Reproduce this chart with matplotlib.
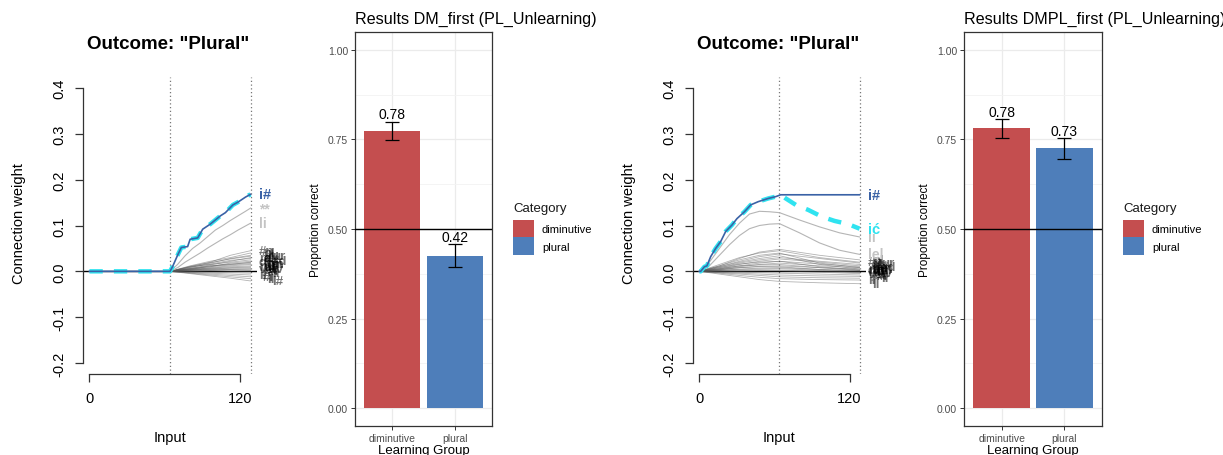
import matplotlib
matplotlib.use("Agg")
import matplotlib.pyplot as plt
from matplotlib.patches import Patch

plt.rcParams["font.family"] = ["Liberation Sans", "DejaVu Sans"]

# ---------------- data: learning curves, outcome "Plural" ----------------
PHASES = [64, 128]

# panel 1 (DM first): cue "i#" only learnt in second phase
P1_BLUE_X = [0, 64, 66, 70, 73, 78, 80, 86, 90, 96, 104, 108, 114, 118, 124, 128]
P1_BLUE_Y = [0, 0, 0.01, 0.035, 0.052, 0.054, 0.07, 0.073, 0.092, 0.103, 0.121, 0.128, 0.145, 0.151, 0.162, 0.168]

P1_GREY_X = [64, 70, 76, 82, 88, 94, 100, 106, 112, 118, 124, 128]
P1_GREY_Y = [
    [0, 0.015, 0.034, 0.050, 0.062, 0.076, 0.090, 0.100, 0.111, 0.121, 0.131, 0.138],
    [0, 0.008, 0.020, 0.030, 0.040, 0.051, 0.061, 0.071, 0.080, 0.090, 0.099, 0.105],
]
P1_GREY_LABELS = ["**", "li"]

P1_BUNDLE_X = [64, 80, 96, 112, 128]
P1_BUNDLE_Y = [
    [0, 0.010, 0.020, 0.035, 0.045],
    [0, 0.012, 0.022, 0.030, 0.040],
    [0, 0.008, 0.018, 0.028, 0.035],
    [0, 0.011, 0.019, 0.027, 0.033],
    [0, 0.006, 0.014, 0.022, 0.030],
    [0, 0.009, 0.016, 0.024, 0.028],
    [0, 0.010, 0.015, 0.020, 0.025],
    [0, 0.005, 0.010, 0.018, 0.022],
    [0, 0.004, 0.012, 0.015, 0.020],
    [0, 0.007, 0.012, 0.016, 0.019],
    [0, 0.006, 0.010, 0.014, 0.017],
    [0, 0.003, 0.008, 0.012, 0.015],
    [0, 0.005, 0.007, 0.010, 0.012],
    [0, 0.002, 0.006, 0.008, 0.010],
    [0, 0.004, 0.005, 0.007, 0.008],
    [0, 0.002, 0.004, 0.005, 0.006],
    [0, 0.003, 0.003, 0.004, 0.004],
    [0, 0.001, 0.002, 0.003, 0.002],
    [0, 0.000, 0.001, 0.000, 0.000],
    [0, -0.001, -0.002, -0.003, -0.004],
    [0, -0.002, -0.004, -0.006, -0.008],
    [0, -0.003, -0.006, -0.009, -0.012],
    [0, -0.004, -0.008, -0.012, -0.016],
    [0, -0.005, -0.010, -0.015, -0.021],
]
P1_BUNDLE_LABELS = ["#p", "pl", "lu", "ur", "ra", "al", "l#", "#d", "di", "im", "mi", "in",
                    "nu", "ut", "ti", "iv", "ve", "e#", "#l", "lł", "ił", "#i", "ll", "l#"]

# panel 2 (DMPL first): "i#" learnt first, "ić" unlearnt later
P2_BLUE_X = [0, 1, 4, 6, 9, 13, 17, 21, 26, 30, 36, 41, 47, 55, 61, 65, 128]
P2_BLUE_Y = [0, 0, 0.010, 0.012, 0.032, 0.050, 0.065, 0.087, 0.101, 0.115, 0.130, 0.145, 0.152, 0.159, 0.163, 0.167, 0.167]

P2_CYAN_X = [0, 1, 4, 6, 9, 13, 17, 21, 26, 30, 36, 41, 47, 55, 61, 65, 69, 77, 87, 98, 108, 119, 128]
P2_CYAN_Y = [0, 0, 0.010, 0.012, 0.032, 0.050, 0.065, 0.087, 0.101, 0.115, 0.130, 0.145, 0.152, 0.159,
             0.163, 0.167, 0.159, 0.145, 0.134, 0.119, 0.110, 0.103, 0.093]

P2_GREY_X = [0, 8, 16, 24, 32, 40, 48, 56, 64, 80, 96, 112, 128]
P2_GREY_Y = [
    [0, 0.020, 0.050, 0.080, 0.105, 0.125, 0.131, 0.130, 0.128, 0.112, 0.097, 0.084, 0.075],
    [0, 0.012, 0.035, 0.058, 0.078, 0.093, 0.100, 0.103, 0.104, 0.084, 0.062, 0.046, 0.037],
]
P2_GREY_LABELS = ["li", "lel"]

P2_BUNDLE_X = [0, 16, 32, 48, 64, 96, 128]
P2_BUNDLE_Y = [
    [0, 0.015, 0.030, 0.040, 0.045, 0.030, 0.020],
    [0, 0.012, 0.028, 0.042, 0.048, 0.035, 0.025],
    [0, 0.012, 0.025, 0.035, 0.040, 0.018, 0.008],
    [0, 0.010, 0.022, 0.032, 0.038, 0.028, 0.018],
    [0, 0.010, 0.020, 0.028, 0.034, 0.015, 0.005],
    [0, 0.008, 0.018, 0.025, 0.030, 0.022, 0.015],
    [0, 0.006, 0.015, 0.022, 0.027, 0.020, 0.012],
    [0, 0.005, 0.012, 0.018, 0.022, 0.016, 0.010],
    [0, 0.008, 0.016, 0.020, 0.022, 0.010, 0.003],
    [0, 0.004, 0.010, 0.015, 0.018, 0.012, 0.008],
    [0, 0.006, 0.012, 0.014, 0.015, 0.008, 0.002],
    [0, 0.003, 0.008, 0.011, 0.012, 0.008, 0.005],
    [0, 0.004, 0.008, 0.010, 0.010, 0.004, 0.000],
    [0, 0.002, 0.005, 0.007, 0.008, 0.004, 0.002],
    [0, 0.002, 0.004, 0.005, 0.006, 0.002, -0.002],
    [0, 0.001, 0.002, 0.003, 0.003, 0.000, -0.003],
    [0, 0.000, 0.000, 0.001, 0.001, -0.002, -0.005],
    [0, -0.001, -0.002, -0.003, -0.004, -0.006, -0.008],
    [0, -0.002, -0.004, -0.006, -0.008, -0.010, -0.011],
    [0, -0.003, -0.006, -0.009, -0.012, -0.014, -0.015],
    [0, -0.004, -0.009, -0.013, -0.016, -0.018, -0.019],
    [0, -0.006, -0.012, -0.018, -0.022, -0.025, -0.027],
]
P2_BUNDLE_LABELS = ["#p", "pl", "lu", "ur", "ra", "al", "l#", "#d", "di", "im", "mi",
                    "in", "nu", "ut", "ti", "iv", "ve", "e#", "#l", "lł", "ił", "ll"]

# ---------------- data: results bars ----------------
GROUPS = ["diminutive", "plural"]
DM_MEAN = [0.775, 0.426]
DM_LO = [0.748, 0.395]
DM_HI = [0.800, 0.457]
DM_TXT = ["0.78", "0.42"]

DMPL_MEAN = [0.783, 0.727]
DMPL_LO = [0.754, 0.695]
DMPL_HI = [0.808, 0.754]
DMPL_TXT = ["0.78", "0.73"]

RED = "#C44E4F"
BLUE = "#4E7EBA"
DARKBLUE = "#3A62A6"
CYAN = "#2FE3F0"

W, H = 1223, 456
fig = plt.figure(figsize=(W / 100, H / 100), dpi=100)


def px_axes(left, right, top, bottom):
    return fig.add_axes([left / W, 1 - bottom / H, (right - left) / W, (bottom - top) / H])


def curve_panel(ax, blue_x, blue_y, cyan_x, cyan_y, grey_x, grey_y, grey_lab,
                bund_x, bund_y, bund_lab, cyan_label):
    ax.set_xlim(-5.12, 133.12)
    ax.set_ylim(-0.224, 0.424)
    for spine in ["top", "right"]:
        ax.spines[spine].set_visible(False)
    ax.spines["left"].set_bounds(-0.2, 0.4)
    ax.spines["bottom"].set_bounds(0, 120)
    for spine in ["left", "bottom"]:
        ax.spines[spine].set_color("#333333")
        ax.spines[spine].set_linewidth(0.9)
    ax.set_yticks([-0.2, -0.1, 0.0, 0.1, 0.2, 0.3, 0.4])
    ax.set_yticklabels(["-0.2", "-0.1", "0.0", "0.1", "0.2", "0.3", "0.4"],
                       rotation=90, va="center")
    ax.set_xticks([0, 120])
    ax.tick_params(length=6, width=0.9, color="#333333", labelsize=10.5, pad=6)
    ax.set_xlabel("Input", fontsize=10.5, labelpad=18)
    ax.set_ylabel("Connection weight", fontsize=10.5)
    ax.yaxis.set_label_coords(-0.33, 0.51)
    ax.text(0.49, 1.114, 'Outcome: "Plural"', transform=ax.transAxes, ha="center",
            va="center", fontsize=13.5, fontweight="bold")

    for xv in PHASES:
        ax.axvline(xv, color="#777777", lw=0.9, ls=(0, (1, 2)))
    ax.axhline(0, color="black", lw=1.0, zorder=2)

    for k, ys in enumerate(bund_y):
        ax.plot(bund_x, ys, color="#555555", lw=0.6, alpha=0.45, zorder=3)
        ax.text(134.5 + 3.5 * (k % 4), ys[-1], bund_lab[k], fontsize=9.5, fontweight="bold",
                color="black", alpha=0.55, va="center", ha="left", clip_on=False)
    for ys, lab in zip(grey_y, grey_lab):
        ax.plot(grey_x, ys, color="#B5B5B5", lw=0.8, zorder=3)
        ax.text(135, ys[-1], lab, fontsize=10, fontweight="bold", color="#C4C4C4",
                va="center", ha="left", clip_on=False)

    ax.plot(cyan_x, cyan_y, color=CYAN, lw=3.2, ls=(0, (3, 2.5)), zorder=4)
    ax.plot(blue_x, blue_y, color=DARKBLUE, lw=1.2, zorder=5)
    ax.text(135, blue_y[-1], "i#", fontsize=10.5, fontweight="bold", color=DARKBLUE,
            va="center", ha="left", clip_on=False)
    if cyan_label:
        ax.text(135, cyan_y[-1], cyan_label, fontsize=10.5, fontweight="bold", color=CYAN,
                va="center", ha="left", clip_on=False)


def bar_panel(ax, means, lo, hi, txt, title):
    x = [1, 2]
    ax.set_xlim(0.4, 2.6)
    ax.set_ylim(-0.05, 1.05)
    ax.set_axisbelow(True)
    ax.set_yticks([0, 0.25, 0.5, 0.75, 1.0])
    ax.set_yticklabels(["0.00", "0.25", "0.50", "0.75", "1.00"])
    ax.set_yticks([0.125, 0.375, 0.625, 0.875], minor=True)
    ax.set_xticks(x)
    ax.set_xticklabels(GROUPS)
    ax.grid(True, which="major", color="#EBEBEB", lw=0.9)
    ax.grid(True, which="minor", axis="y", color="#F3F3F3", lw=0.6)
    ax.tick_params(which="minor", length=0)
    ax.tick_params(which="major", length=3, width=0.7, color="#333333",
                   labelsize=7.5, labelcolor="#4D4D4D", pad=2)
    for spine in ax.spines.values():
        spine.set_color("#333333")
        spine.set_linewidth(0.9)
    ax.bar(x, means, width=0.9, color=[RED, BLUE], zorder=2)
    ax.axhline(0.5, color="black", lw=1.0, zorder=3)
    err = [[m - l for m, l in zip(means, lo)], [h - m for m, h in zip(means, hi)]]
    ax.errorbar(x, means, yerr=err, fmt="none", ecolor="black", elinewidth=0.9,
                capsize=4.7, capthick=0.9, zorder=4)
    for xi, h, t in zip(x, hi, txt):
        ax.text(xi, h + 0.02, t, ha="center", va="center", fontsize=10, zorder=5)
    ax.set_ylabel("Proportion correct", fontsize=8.5, labelpad=4)
    ax.set_xlabel("Learning Group", fontsize=9.5, labelpad=0.5)
    ax.text(0, 1 + 14 / 394, title, transform=ax.transAxes, ha="left", va="center",
            fontsize=11.6)
    handles = [Patch(facecolor=RED, label="diminutive"), Patch(facecolor=BLUE, label="plural")]
    bb = ax.get_position()
    leg = ax.legend(handles=handles, title="Category", loc="upper left",
                    bbox_to_anchor=(bb.x1 + 21 / W, 1 - 203 / H),
                    bbox_transform=fig.transFigure, frameon=False, fontsize=8,
                    title_fontsize=9.5, handlelength=1.9, handleheight=2.1,
                    labelspacing=0, handletextpad=0.7, borderpad=0, borderaxespad=0,
                    alignment="left")
    leg._legend_box.sep = 4
    leg.get_title().set_color("#1A1A1A")


ax1 = px_axes(83, 257, 78, 375)
curve_panel(ax1, P1_BLUE_X, P1_BLUE_Y, P1_BLUE_X, P1_BLUE_Y, P1_GREY_X, P1_GREY_Y,
            P1_GREY_LABELS, P1_BUNDLE_X, P1_BUNDLE_Y, P1_BUNDLE_LABELS, None)

ax2 = px_axes(355, 492, 33, 427)
bar_panel(ax2, DM_MEAN, DM_LO, DM_HI, DM_TXT, "Results DM_first (PL_Unlearning)")

ax3 = px_axes(693, 866, 78, 375)
curve_panel(ax3, P2_BLUE_X, P2_BLUE_Y, P2_CYAN_X, P2_CYAN_Y, P2_GREY_X, P2_GREY_Y,
            P2_GREY_LABELS, P2_BUNDLE_X, P2_BUNDLE_Y, P2_BUNDLE_LABELS, "ić")

ax4 = px_axes(964, 1102, 33, 427)
bar_panel(ax4, DMPL_MEAN, DMPL_LO, DMPL_HI, DMPL_TXT, "Results DMPL_first (PL_Unlearning)")

fig.savefig("out.png", dpi=100)
